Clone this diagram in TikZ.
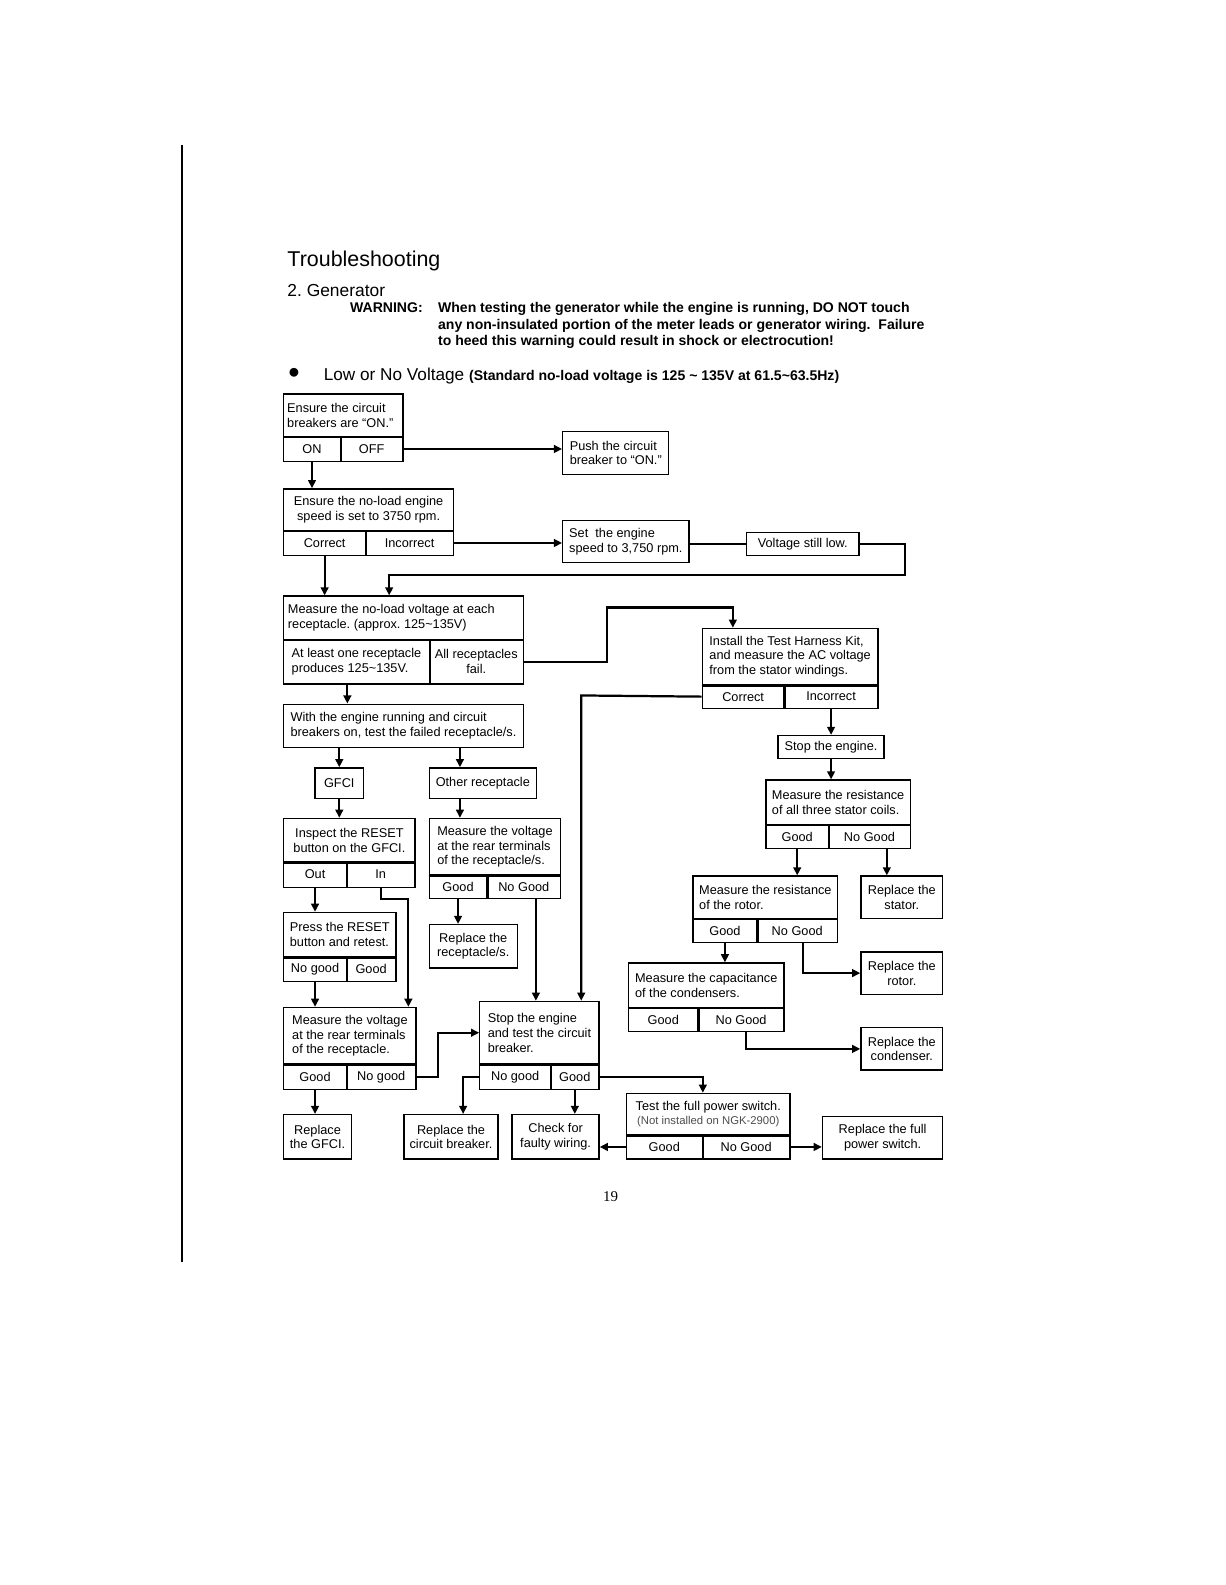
\documentclass[tikz,border=0pt]{standalone}
\usepackage{fontspec}
\setmainfont{Liberation Sans}
\newfontfamily\pagefont{Liberation Serif}
\usepackage{tikz}
\usetikzlibrary{arrows.meta,calc}
\frenchspacing
\newcommand{\boxfont}{\fontsize{6.3}{7.3}\selectfont}
\newcommand{\notefont}{\fontsize{5.6}{7}\selectfont\color{black!70}}
\newcommand{\warnfont}{\bfseries\fontsize{6.95}{8}\selectfont}
\tikzset{
  blk/.style={rectangle,draw,line width=0.65pt,anchor=north west,inner sep=0pt,
    align=center,font=\boxfont},
  blkl/.style={blk,align=left},
  sz/.style 2 args={minimum width=#1*0.5pt,minimum height=#2*0.5pt},
  splt/.style={line width=1.1pt},
  ar/.style={-{Triangle[length=4pt,width=3.8pt]},line width=1.1pt},
  ln/.style={line width=1.1pt},
  hd/.style={anchor=base west,inner sep=0pt},
}

\begin{document}
\begin{tikzpicture}[x=0.5pt,y=-0.5pt,font=\boxfont]
  \useasboundingbox (0,0) rectangle (1212,1568);
  \draw[line width=0.6pt] (180,143) -- (180,1248);
  % headings
  \node[hd,font=\fontsize{10.6}{12}\selectfont] (ttl) at (284,264) {Troubleshooting};
  \node[hd,font=\fontsize{8.6}{10}\selectfont] (gen) at (284,293) {2. Generator};
  \node[hd,font=\warnfont] (wrn) at (346,309) {WARNING:};
  \node[hd,font=\warnfont,anchor=north west,align=left] (wtx) at (433,299)
    {When testing the generator while the engine is running, DO NOT touch\\
     any non-insulated portion of the meter leads or generator wiring.\ \ Failure\\
     to heed this warning could result in shock or electrocution!};
  \node[hd,font=\fontsize{16}{16}\selectfont] (bul) at (285,379) {\textbullet};
  \node[hd,font=\fontsize{8.5}{10}\selectfont] (lnv) at (320,376)
    {Low or No Voltage {\warnfont(Standard no-load voltage is 125 \textasciitilde{} 135V at 61.5\textasciitilde63.5Hz)}};

  % upper chain
  \node[blkl,sz={118}{42}] (ecb) at (280,389) {Ensure the circuit\\breakers are “ON.”\hspace*{3pt}};
  \node[blk,sz={56}{25}] (ecbon) at (280,431) {ON};
  \node[blk,sz={62}{25}] (ecboff) at (336,431) {OFF};
  \node[blkl,sz={105}{43}] (push) at (556,426) {Push the circuit\\breaker to “ON.”};
  \node[blk,sz={168}{41}] (spd) at (280,483) {Ensure the no-load engine\\speed is set to 3750 rpm.};
  \node[blk,sz={81}{25}] (spdok) at (280,524) {Correct};
  \node[blk,sz={87}{25}] (spdno) at (361,524) {Incorrect};
  \node[blkl,sz={125}{42}] (set) at (556,514) {Set\ \ the engine\\speed to 3,750 rpm.};
  \node[blk,sz={111}{23}] (low) at (738,526) {Voltage still low.};
  \node[blkl,sz={237}{43}] (nlv) at (280,589) {Measure the no-load voltage at each\hspace*{12pt}\\receptacle. (approx. 125\textasciitilde135V)};
  \node[blkl,sz={144}{44}] (nlvone) at (280,632) {At least one receptacle\\produces 125\textasciitilde135V.};
  \node[blk,sz={93}{44}] (nlvall) at (424,632) {All receptacles\\fail.};

  % right column
  \node[blkl,sz={174}{56}] (kit) at (694,621) {Install the Test Harness Kit,\\and measure the AC voltage\\from the stator windings.};
  \node[blk,sz={81}{23}] (kitok) at (694,677) {Correct};
  \node[blk,sz={93}{23}] (kitno) at (775,677) {Incorrect};
  \node[blk,sz={105}{23}] (stop) at (769,727) {Stop the engine.};
  \node[blkl,sz={143}{44}] (stc) at (757,771) {Measure the resistance\\of all three stator coils.};
  \node[blk,sz={62}{24}] (stcok) at (757,815) {Good};
  \node[blk,sz={81}{24}] (stcno) at (819,815) {No Good};
  \node[blk,sz={81}{42}] (rstat) at (851,866) {Replace the\\stator.};
  \node[blkl,sz={143}{42}] (rot) at (685,866) {Measure the resistance\\of the rotor.};
  \node[blk,sz={63}{24}] (rotok) at (685,908) {Good};
  \node[blk,sz={80}{24}] (rotno) at (748,908) {No Good};
  \node[blk,sz={81}{42}] (rrot) at (851,941) {Replace the\\rotor.};
  \node[blkl,sz={154}{44}] (cap) at (621,952) {Measure the capacitance\\of the condensers.};
  \node[blk,sz={69}{24}] (capok) at (621,996) {Good};
  \node[blk,sz={85}{24}] (capno) at (690,996) {No Good};
  \node[blk,sz={81}{42}] (rcond) at (851,1016) {Replace the\\condenser.};

  % left column
  \node[blkl,sz={237}{43}] (run) at (280,696) {With the engine running and circuit\\breakers on, test the failed receptacle/s.};
  \node[blk,sz={48}{30}] (gfci) at (311,759) {GFCI};
  \node[blk,sz={106}{30}] (oth) at (424,759) {Other receptacle};
  \node[blk,sz={130}{43}] (ins) at (280,809) {Inspect the RESET\\button on the GFCI.};
  \node[blk,sz={62}{25}] (insout) at (280,852) {Out};
  \node[blk,sz={68}{25}] (insin) at (342,852) {In};
  \node[blkl,sz={130}{56}] (mrs) at (424,809) {Measure the voltage\\at the rear terminals\\of the receptacle/s.};
  \node[blk,sz={57}{23}] (mrsok) at (424,865) {Good};
  \node[blk,sz={73}{23}] (mrsno) at (481,865) {No Good};
  \node[blk,sz={87}{43}] (rrec) at (424,914) {Replace the\\receptacle/s.};
  \node[blkl,sz={111}{44}] (prs) at (280,902) {Press the RESET\\button and retest.};
  \node[blk,sz={62}{24}] (prsno) at (280,946) {No good};
  \node[blk,sz={49}{24}] (prsok) at (342,946) {Good};
  \node[blkl,sz={131}{56}] (mrt) at (280,996) {Measure the voltage\\at the rear terminals\\of the receptacle.};
  \node[blk,sz={62}{25}] (mrtok) at (280,1052) {Good};
  \node[blk,sz={69}{25}] (mrtno) at (342,1052) {No good};
  \node[blkl,sz={118}{62}] (brk) at (474,990) {Stop the engine\\and test the circuit\\breaker.};
  \node[blk,sz={70}{25}] (brkno) at (474,1052) {No good};
  \node[blk,sz={48}{25}] (brkok) at (544,1052) {Good};
  \node[blk,sz={67}{44}] (rgf) at (280,1102) {Replace\\the GFCI.};
  \node[blk,sz={93}{44}] (rcb) at (399,1102) {Replace the\\circuit breaker.};
  \node[blk,sz={86}{44}] (wir) at (506,1102) {Check for\\faulty wiring.};
  \node[blk,sz={162}{41}] (fps) at (619,1081) {Test the full power switch.\\{\notefont(Not installed on NGK-2900)}};
  \node[blk,sz={75}{24}] (fpsok) at (619,1122) {Good};
  \node[blk,sz={87}{24}] (fpsno) at (694,1122) {No Good};
  \node[blk,sz={119}{42}] (rfps) at (813,1104) {Replace the full\\power switch.};

  \node[font=\pagefont\fontsize{7.4}{9}\selectfont,anchor=base,inner sep=0pt] (pg) at (604,1189) {19};

  % thick split lines
  \foreach \t/\c in {ecb/ecbon,spd/spdok,nlv/nlvone,kit/kitok,stc/stcok,rot/rotok,cap/capok,
      ins/insout,mrs/mrsok,prs/prsno,mrt/mrtok,brk/brkno,fps/fpsok} {
    \draw[splt] (\t.south west) -- (\t.south east);
    \draw[splt] (\c.north east) -- (\c.south east);
  }

  % connectors
  \coordinate (back) at (385,569);
  \coordinate (kin) at (725,601);
  \coordinate (kdn) at (575,688);
  \coordinate (s1) at ($(stcno.south east)+(-24,0)$);
  \coordinate (r1) at ($(rotno.south)+(6,0)$);
  \coordinate (c2) at ($(capno.south)+(5,0)$);
  \coordinate (n1) at ($(nlvone.south)+(-9,0)$);
  \coordinate (o1) at ($(oth.north west)+(31,0)$);
  \coordinate (m1) at ($(mrsno.south)+(12,0)$);
  \coordinate (i1) at ($(mrt.north west)+(124,0)$);
  \coordinate (c1) at ($(rcb.north)+(12,0)$);

  \draw[ar] (ecboff.east) -- (ecboff.east -| push.west);
  \draw[ar] (ecbon.south) -- (ecbon.south |- spd.north);
  \draw[ar] (spdno.east) -- (spdno.east -| set.west);
  \draw[ln] (low.west -| set.east) -- (low.west);
  \draw[ar] (low.east) -- ++(45,0) |- (back) -- (back |- nlv.north);
  \draw[ar] (spdok.south) -- (spdok.south |- nlv.north);
  \draw[ar] (nlvall.east) -- ++(82,0) |- (kin) -- (kin |- kit.north);
  \draw[ar] (kitok.west) -- (kdn) -- (kdn |- brk.north);
  \draw[ar] (kitno.south) -- (stop.north);
  \draw[ar] (stop.south) -- (stop.south |- stc.north);
  \draw[ar] (stcok.south) -- (stcok.south |- rot.north);
  \draw[ar] (s1) -- (s1 |- rstat.north);
  \draw[ar] (rotok.south) -- (rotok.south |- cap.north);
  \draw[ar] (r1) |- (rrot.west);
  \draw[ar] (c2) |- (rcond.west);
  \draw[ar] (n1) -- (n1 |- run.north);
  \draw[ar] (gfci.north |- run.south) -- (gfci.north);
  \draw[ar] (o1 |- run.south) -- (o1);
  \draw[ar] (gfci.south) -- (gfci.south |- ins.north);
  \draw[ar] (o1 |- oth.south) -- (o1 |- mrs.north);
  \draw[ar] (mrsok.south) -- (mrsok.south |- rrec.north);
  \draw[ar] (m1) -- (m1 |- brk.north);
  \draw[ar] (insout.south) -- (insout.south |- prs.north);
  \draw[ar] (insin.south) -- ++(0,11) -| (i1);
  \draw[ar] (prsno.south) -- (prsno.south |- mrt.north);
  \draw[ar] (mrtno.east) -- ++(21,0) |- (brk.west);
  \draw[ar] (mrtok.south) -- (mrtok.south |- rgf.north);
  \draw[ar] (brkno.west) -| (c1);
  \draw[ar] (brkok.south) -- (brkok.south |- wir.north);
  \draw[ar] (brkok.east) -| (fpsok.east |- fps.north);
  \draw[ar] (fpsok.west) -- (fpsok.west -| wir.east);
  \draw[ar] (fpsno.east) -- (fpsno.east -| rfps.west);
\end{tikzpicture}
\end{document}
